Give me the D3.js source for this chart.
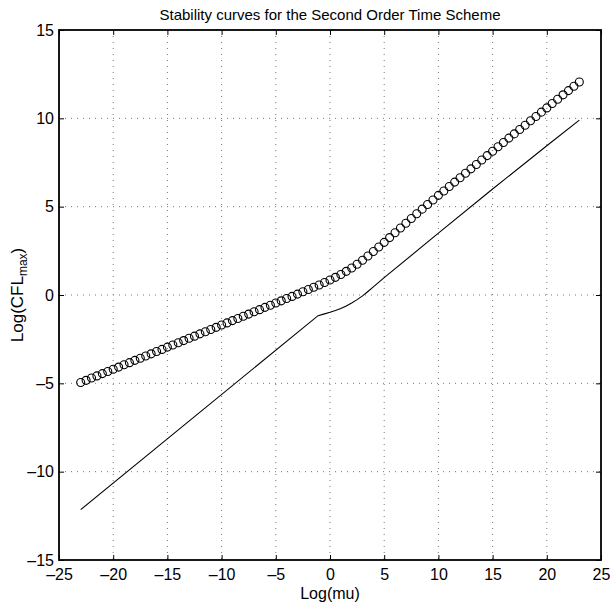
<!DOCTYPE html>
<html>
<head>
<meta charset="utf-8">
<script src="https://cdn.jsdelivr.net/npm/d3@7"></script>
<style>
  body { margin: 0; background: #fff; }
  text { font-family: "Liberation Sans Narrow", "Liberation Sans", Arial, sans-serif; fill: #000; }
</style>
</head>
<body>
<svg id="chart"></svg>
<script>
const WIDTH = 616;
const HEIGHT = 607;
const MARGIN = { LEFT: 59, RIGHT: 15, TOP: 30, BOTTOM: 47 };

const X_TICKS = [-25, -20, -15, -10, -5, 0, 5, 10, 15, 20, 25];
const Y_TICKS = [-15, -10, -5, 0, 5, 10, 15];

// circles: log(mu) sample points and max CFL
const circleMu = [
  -23, -22.5, -22, -21.5, -21, -20.5, -20, -19.5, -19, -18.5, -18, -17.5, -17, -16.5, -16, -15.5,
  -15, -14.5, -14, -13.5, -13, -12.5, -12, -11.5, -11, -10.5, -10, -9.5, -9, -8.5, -8, -7.5,
  -7, -6.5, -6, -5.5, -5, -4.5, -4, -3.5, -3, -2.5, -2, -1.5, -1, -0.5, 0, 0.5,
  1, 1.5, 2, 2.5, 3, 3.5, 4, 4.5, 5, 5.5, 6, 6.5, 7, 7.5, 8, 8.5,
  9, 9.5, 10, 10.5, 11, 11.5, 12, 12.5, 13, 13.5, 14, 14.5, 15, 15.5, 16, 16.5,
  17, 17.5, 18, 18.5, 19, 19.5, 20, 20.5, 21, 21.5, 22, 22.5, 23,
];
const circleCfl = [
  -4.95, -4.83, -4.70, -4.58, -4.45, -4.33, -4.20, -4.08, -3.95, -3.83, -3.70, -3.58, -3.45, -3.33, -3.20, -3.08,
  -2.95, -2.83, -2.70, -2.58, -2.45, -2.33, -2.20, -2.08, -1.95, -1.83, -1.70, -1.58, -1.45, -1.33, -1.20, -1.08,
  -0.95, -0.83, -0.70, -0.58, -0.45, -0.33, -0.20, -0.08, 0.05, 0.18, 0.31, 0.44, 0.57, 0.71, 0.85, 1.00,
  1.16, 1.34, 1.53, 1.74, 1.97, 2.21, 2.46, 2.72, 2.98, 3.25, 3.52, 3.79, 4.06, 4.33, 4.60, 4.86,
  5.12, 5.38, 5.64, 5.89, 6.14, 6.39, 6.64, 6.89, 7.14, 7.39, 7.64, 7.89, 8.14, 8.39, 8.63, 8.88,
  9.12, 9.37, 9.61, 9.86, 10.10, 10.35, 10.59, 10.84, 11.08, 11.33, 11.57, 11.82, 12.06,
];

// solid curve
const lineMu = [-23, -1.1, -0.5, 0, 0.5, 1, 1.5, 2, 2.5, 3, 3.5, 4, 5, 10, 15, 20, 23];
const lineCfl = [-12.15, -1.17, -1.07, -0.98, -0.88, -0.76, -0.62, -0.45, -0.26, -0.05, 0.2, 0.46, 0.98, 3.5, 6.0, 8.45, 9.9];

const innerW = WIDTH - MARGIN.LEFT - MARGIN.RIGHT;
const innerH = HEIGHT - MARGIN.TOP - MARGIN.BOTTOM;

const svg = d3.select('#chart').attr('width', WIDTH).attr('height', HEIGHT);
const g = svg.append('g').attr('transform', `translate(${MARGIN.LEFT}, ${MARGIN.TOP})`);

const x = d3.scaleLinear([-25, 25], [0, innerW]);
const y = d3.scaleLinear([-15, 15], [innerH, 0]);

// dotted grid
g.append('g')
  .selectAll('line')
  .data(X_TICKS.slice(1, -1))
  .join('line')
  .attr('x1', (d) => x(d)).attr('x2', (d) => x(d))
  .attr('y1', 0).attr('y2', innerH)
  .attr('stroke', '#777').attr('stroke-width', 1).attr('stroke-dasharray', '1,5');
g.append('g')
  .selectAll('line')
  .data(Y_TICKS.slice(1, -1))
  .join('line')
  .attr('y1', (d) => y(d)).attr('y2', (d) => y(d))
  .attr('x1', 0).attr('x2', innerW)
  .attr('stroke', '#777').attr('stroke-width', 1).attr('stroke-dasharray', '1,5');

// axes with inward ticks, matlab box style
const fmt = (d) => (d < 0 ? '\u2013' + Math.abs(d) : String(d));
const styleAxis = (sel) => {
  sel.select('.domain').remove();
  sel.selectAll('line').attr('stroke', '#000').attr('stroke-width', 1);
  sel.selectAll('text').style('font-size', '16px');
};

g.append('g').attr('transform', `translate(0, ${innerH})`)
  .call(d3.axisBottom(x).tickValues(X_TICKS).tickFormat(fmt).tickSizeInner(-5).tickSizeOuter(0).tickPadding(9))
  .call(styleAxis);
g.append('g')
  .call(d3.axisTop(x).tickValues(X_TICKS).tickFormat('').tickSizeInner(-5).tickSizeOuter(0))
  .call(styleAxis);
g.append('g')
  .call(d3.axisLeft(y).tickValues(Y_TICKS).tickFormat(fmt).tickSizeInner(-5).tickSizeOuter(0).tickPadding(5))
  .call(styleAxis);
g.append('g').attr('transform', `translate(${innerW}, 0)`)
  .call(d3.axisRight(y).tickValues(Y_TICKS).tickFormat('').tickSizeInner(-5).tickSizeOuter(0))
  .call(styleAxis);

g.append('rect')
  .attr('width', innerW).attr('height', innerH)
  .attr('fill', 'none').attr('stroke', '#000').attr('stroke-width', 1.8);

// solid curve
g.append('path')
  .datum(d3.zip(lineMu, lineCfl))
  .attr('fill', 'none')
  .attr('stroke', '#000')
  .attr('stroke-width', 1.1)
  .attr('d', d3.line().x((d) => x(d[0])).y((d) => y(d[1])));

// circles
g.append('g')
  .selectAll('circle')
  .data(d3.zip(circleMu, circleCfl))
  .join('circle')
  .attr('cx', (d) => x(d[0]))
  .attr('cy', (d) => y(d[1]))
  .attr('r', 4)
  .attr('fill', 'none')
  .attr('stroke', '#000')
  .attr('stroke-width', 1.1);

// labels
svg.append('text')
  .attr('x', MARGIN.LEFT + innerW / 2).attr('y', 20)
  .attr('text-anchor', 'middle').style('font-size', '15px')
  .text('Stability curves for the Second Order Time Scheme');

svg.append('text')
  .attr('x', MARGIN.LEFT + innerW / 2).attr('y', 599)
  .attr('text-anchor', 'middle').style('font-size', '16px')
  .text('Log(mu)');

const yLabel = svg.append('text')
  .attr('transform', `translate(23, ${MARGIN.TOP + innerH / 2}) rotate(-90)`)
  .attr('text-anchor', 'middle').style('font-size', '17px');
yLabel.append('tspan').text('Log(CFL');
yLabel.append('tspan').attr('dy', 4).style('font-size', '12px').text('max');
yLabel.append('tspan').attr('dy', -4).text(')');
</script>
</body>
</html>
